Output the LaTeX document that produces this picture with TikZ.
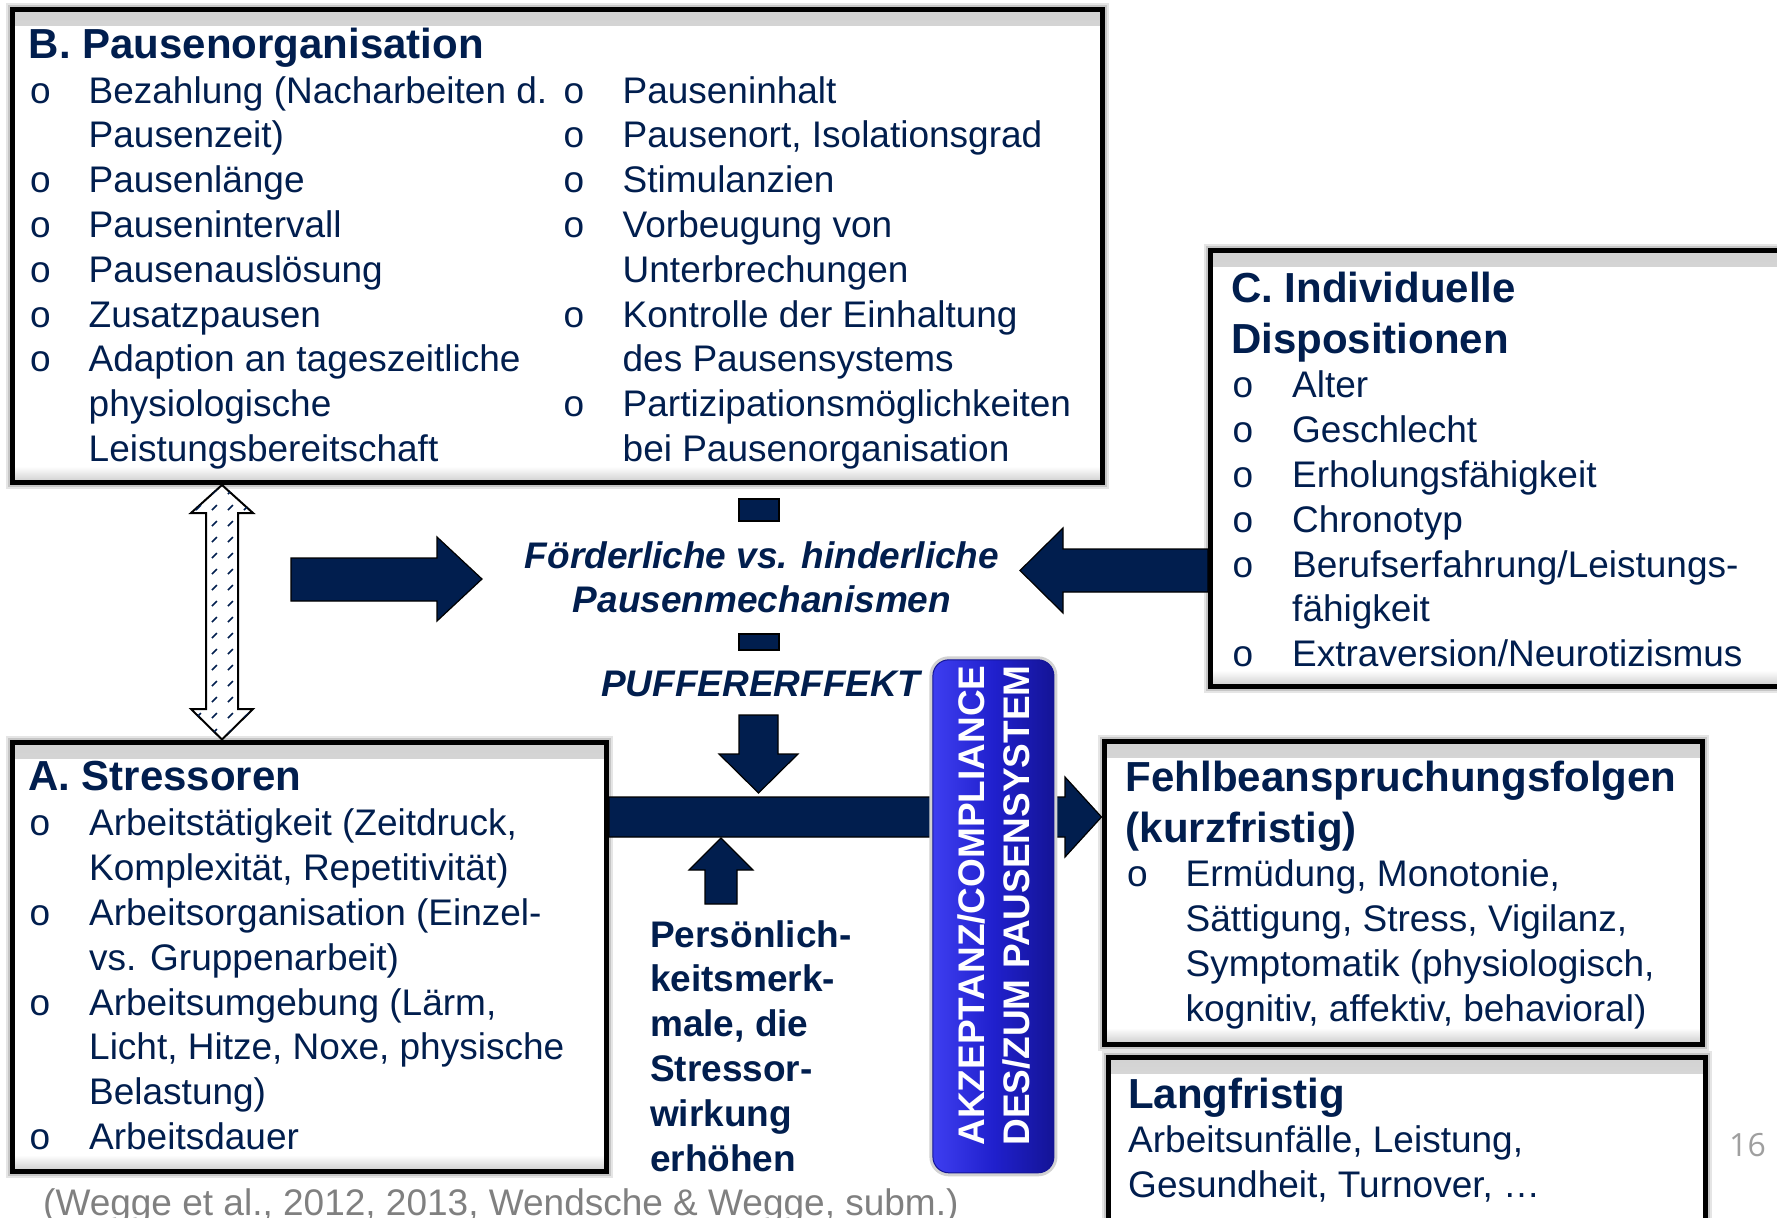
\documentclass[tikz,border=0pt]{standalone}
\usepackage{fontspec}
\setmainfont{Liberation Sans}
\newfontfamily\numfont{Open Sans}
\usepackage{array}
\usetikzlibrary{patterns.meta}

\definecolor{navy}{RGB}{1,30,78}
\definecolor{blueL}{RGB}{62,62,240}
\definecolor{blueM}{RGB}{32,32,205}
\definecolor{blueR}{RGB}{20,20,150}

\newcommand{\bodyf}{\fontsize{37bp}{44.8bp}\selectfont}
\newcommand{\titlef}{\fontsize{42bp}{50bp}\selectfont\bfseries}
\newcommand{\bul}{\hspace*{1.5bp}o}

\tikzdeclarepattern{
  name=hatchdash,
  type=uncolored,
  bottom left={(0pt,0pt)},
  top right={(16pt,16pt)},
  tile size={(16pt,16pt)},
  code={\draw[line width=1.5pt] (5pt,5pt) -- (10pt,10pt);}
}

\tikzset{
  panel/.style={draw=black, line width=5bp, fill=white, inner sep=0, outer sep=2.5bp,
    preaction={draw=gray!20, line width=13bp},
    preaction={draw=gray!45, line width=9bp},
    path picture={
      \shade[top color=gray!35, bottom color=white]
        (path picture bounding box.north west) rectangle ([yshift=-16bp]path picture bounding box.north east);
      \shade[top color=white, bottom color=gray!40]
        ([yshift=16bp]path picture bounding box.south west) rectangle (path picture bounding box.south east);
    }},
  txt/.style={font=\bodyf, text=navy, inner sep=0, anchor=north west},
  boldtxt/.style={txt, font=\bodyf\bfseries},
  blockarr/.style={fill=navy, draw=black, line width=1.2bp},
}

\begin{document}
\begin{tikzpicture}[x=1bp, y=-1bp]
\useasboundingbox (0,0) rectangle (1777,1217);
\fill[white] (0,0) rectangle (1777,1217);

% the five boxes
\node[panel, minimum width=1090bp, minimum height=473.5bp, anchor=north west] (boxB) at (9.5,6.5) {};
\node[panel, minimum width=594.5bp, minimum height=429bp, anchor=north west] (boxA) at (9.5,739.5) {};
\node[panel, minimum width=580bp, minimum height=436bp, anchor=north west] (boxC) at (1208,248) {};
\node[panel, minimum width=598bp, minimum height=303bp, anchor=north west] (boxF) at (1101.5,738.5) {};
\node[panel, minimum width=597.5bp, minimum height=190bp, anchor=north west] (boxL) at (1105.5,1055) {};

\node[txt] (txtB) at (28.5,26.8) {%
  \begin{tabular}{@{}p{60bp}@{}p{475bp}@{}p{59bp}@{}l@{}}
  \multicolumn{4}{@{}l@{}}{\titlef B. Pausenorganisation}\\
  \bul & Bezahlung (Nacharbeiten d. & o & Pauseninhalt\\
       & Pausenzeit)                & o & Pausenort, Isolationsgrad\\
  \bul & Pausenlänge                & o & Stimulanzien\\
  \bul & Pausenintervall            & o & Vorbeugung von\\
  \bul & Pausenauslösung            &   & Unterbrechungen\\
  \bul & Zusatzpausen               & o & Kontrolle der Einhaltung\\
  \bul & Adaption an tageszeitliche &   & des Pausensystems\\
       & physiologische             & o & Partizipationsmöglichkeiten\\
       & Leistungsbereitschaft      &   & bei Pausenorganisation
  \end{tabular}};

\node[txt] (txtC) at (1231,270.6) {%
  \begin{tabular}{@{}p{61bp}@{}l@{}}
  \multicolumn{2}{@{}l@{}}{\titlef C. Individuelle}\\[6.2bp]
  \multicolumn{2}{@{}l@{}}{\titlef Dispositionen}\\
  \bul & Alter\\
  \bul & Geschlecht\\
  \bul & Erholungsfähigkeit\\
  \bul & Chronotyp\\
  \bul & Berufserfahrung/Leistungs-\\
       & fähigkeit\\
  \bul & Extraversion/Neurotizismus
  \end{tabular}};

\node[txt] (txtA) at (28,758.6) {%
  \begin{tabular}{@{}p{61bp}@{}l@{}}
  \multicolumn{2}{@{}l@{}}{\titlef A. Stressoren}\\[1bp]
  \bul & Arbeitstätigkeit (Zeitdruck,\\
       & Komplexität, Repetitivität)\\
  \bul & Arbeitsorganisation (Einzel-\\
       & vs. Gruppenarbeit)\\
  \bul & Arbeitsumgebung (Lärm,\\
       & Licht, Hitze, Noxe, physische\\
       & Belastung)\\
  \bul & Arbeitsdauer
  \end{tabular}};

\node[txt] (txtF) at (1125.5,759.6) {%
  \begin{tabular}{@{}p{60bp}@{}l@{}}
  \multicolumn{2}{@{}l@{}}{\titlef Fehlbeanspruchungsfolgen}\\[6.2bp]
  \multicolumn{2}{@{}l@{}}{\titlef (kurzfristig)}\\
  \bul & Ermüdung, Monotonie,\\
       & Sättigung, Stress, Vigilanz,\\
       & Symptomatik (physiologisch,\\
       & kognitiv, affektiv, behavioral)
  \end{tabular}};

\node[txt] (txtL) at (1128,1076.6) {%
  \begin{tabular}{@{}l@{}}
  {\titlef Langfristig}\\
  Arbeitsunfälle, Leistung,\\
  Gesundheit, Turnover, …
  \end{tabular}};

% middle texts
\node[boldtxt, font=\bodyf\bfseries\itshape, anchor=north] (mech) at (762,536.6) {%
  \begin{tabular}{@{}c@{}}Förderliche vs. hinderliche\\Pausenmechanismen\end{tabular}};
\node[boldtxt, font=\bodyf\bfseries\itshape, anchor=base] (puffer) at (760.5,696) {PUFFERERFFEKT};
\node[boldtxt] (pers) at (650,915.6) {%
  \begin{tabular}{@{}l@{}}Persönlich-\\keitsmerk-\\male, die\\Stressor-\\wirkung\\erhöhen\end{tabular}};

% arrows
\filldraw[fill=white, draw=black, line width=2bp, postaction={pattern=hatchdash, pattern color=navy}]
  (222,0 |- boxB.south) -- (253,513) -- (238,513) -- (238,709) -- (253,709)
  -- (222,0 |- boxA.north) -- (191,709) -- (206,709) -- (206,513) -- (191,513) -- cycle;
\filldraw[blockarr] (291,558) -- (437,558) -- (437,537) -- (482,579) -- (437,621) -- (437,601) -- (291,601) -- cycle;
\filldraw[blockarr] (boxC.west |- 0,549) -- (1063,549) -- (1063,528) -- (1020,570.5)
  -- (1063,613) -- (1063,592) -- (boxC.west |- 0,592) -- cycle;
\filldraw[blockarr] (739,499) rectangle (779,521);
\filldraw[blockarr] (739,634) rectangle (779,650);
\filldraw[blockarr] (739,715) -- (778,715) -- (778,754) -- (798,754) -- (758.5,793)
  -- (719,754) -- (739,754) -- cycle;
\filldraw[blockarr] (boxA.east |- 0,797) -- (1065,797) -- (1065,777) -- (boxF.west |- 0,817)
  -- (1065,857) -- (1065,837) -- (boxA.east |- 0,837) -- cycle;
\filldraw[blockarr] (705,904) -- (737,904) -- (737,870) -- (753,870) -- (721,838)
  -- (689,870) -- (705,870) -- cycle;

% acceptance bar
\node[rounded corners=16bp, minimum width=121bp, minimum height=513bp, draw=blueR, line width=1bp,
  left color=blueL, right color=blueR, middle color=blueM,
  preaction={draw=gray!35, line width=7bp}] (compl) at (993.4,916.3) {};
\node[rotate=90, font=\bodyf\bfseries, text=white, inner sep=0] (compltxt) at (998,905.5) {%
  \begin{tabular}{@{}c@{}}AKZEPTANZ/COMPLIANCE\\DES/ZUM PAUSENSYSTEM\end{tabular}};

\node[font=\bodyf, text=gray, inner sep=0, anchor=base west] (cite) at (43,1215)
  {(Wegge et al., 2012, 2013, Wendsche \& Wegge, subm.)};
\node[font=\fontsize{32bp}{38bp}\numfont, text=gray!75, inner sep=0, anchor=base west] (pageno) at (1729,1156) {16};
\end{tikzpicture}
\end{document}
